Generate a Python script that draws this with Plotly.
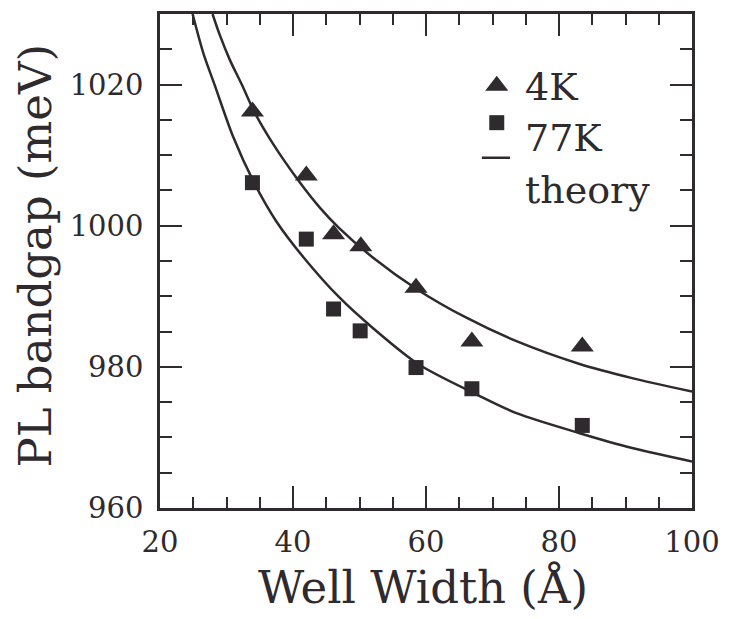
import plotly.graph_objects as go

width_4k = [33.9, 42.0, 46.1, 50.2, 58.5, 66.9, 83.5]
gap_4k = [1016.2, 1007.1, 998.8, 997.1, 991.2, 983.6, 982.9]

width_77k = [33.9, 42.0, 46.1, 50.1, 58.5, 66.9, 83.5]
gap_77k = [1006.1, 998.1, 988.2, 985.1, 979.9, 976.9, 971.7]

# Theory curves
theory_4k_w = [27.9, 29.0, 30.5, 32.3, 34.2, 37.0, 40.9, 44.0, 46.9, 52.0, 58.8, 66.0, 73.7, 83.1, 91.0, 100.0]
theory_4k_e = [1030.0, 1027.0, 1023.5, 1020.0, 1016.1, 1011.6, 1006.3, 1002.6, 999.7, 995.5, 990.9, 987.0, 983.6, 980.4, 978.4, 976.5]

theory_77k_w = [24.9, 26.5, 28.2, 31.0, 34.2, 37.5, 41.6, 46.9, 52.0, 58.8, 67.8, 73.7, 83.1, 91.0, 100.0]
theory_77k_e = [1030.0, 1024.5, 1020.0, 1012.6, 1006.0, 1000.6, 995.5, 989.9, 985.5, 980.4, 976.0, 973.4, 970.6, 968.5, 966.6]

legend_labels = ["4K", "77K", "theory"]

INK = "#2f2a2d"
FONT = "DejaVu Serif"

fig = go.Figure()

fig.add_trace(go.Scatter(x=theory_4k_w, y=theory_4k_e, mode="lines",
                         line=dict(color=INK, width=2.5, shape="spline", smoothing=0.8),
                         showlegend=False, hoverinfo="skip"))
fig.add_trace(go.Scatter(x=theory_77k_w, y=theory_77k_e, mode="lines",
                         line=dict(color=INK, width=2.5, shape="spline", smoothing=0.8),
                         showlegend=False, hoverinfo="skip"))
fig.add_trace(go.Scatter(x=width_4k, y=gap_4k, mode="markers",
                         marker=dict(symbol="triangle-up", size=20, color=INK, line=dict(width=0)),
                         showlegend=False, cliponaxis=False))
fig.add_trace(go.Scatter(x=width_77k, y=gap_77k, mode="markers",
                         marker=dict(symbol="square", size=15, color=INK, line=dict(width=0)),
                         showlegend=False, cliponaxis=False))

# Legend keys drawn on an invisible overlay axis (0..1 paper-like)
fig.add_trace(go.Scatter(x=[0.633], y=[0.855], xaxis="x2", yaxis="y2", mode="markers",
                         marker=dict(symbol="triangle-up", size=20, color=INK, line=dict(width=0)),
                         showlegend=False, hoverinfo="skip"))
fig.add_trace(go.Scatter(x=[0.633], y=[0.780], xaxis="x2", yaxis="y2", mode="markers",
                         marker=dict(symbol="square", size=15, color=INK, line=dict(width=0)),
                         showlegend=False, hoverinfo="skip"))
fig.add_trace(go.Scatter(x=[0.605, 0.658], y=[0.709, 0.709], xaxis="x2", yaxis="y2", mode="lines",
                         line=dict(color=INK, width=2.5),
                         showlegend=False, hoverinfo="skip"))

axis_common = dict(
    showline=True, linecolor=INK, linewidth=2.5, mirror="allticks",
    ticks="inside", ticklen=22, tickwidth=2, tickcolor=INK,
    showgrid=False, zeroline=False,
    tickfont=dict(family=FONT, size=29, color=INK),
)

fig.update_layout(
    width=731, height=619,
    margin=dict(l=160, r=34, t=11, b=111),
    paper_bgcolor="white", plot_bgcolor="white",
    xaxis=dict(range=[20, 100], tickvals=[20, 40, 60, 80, 100],
               minor=dict(ticks="inside", ticklen=11, tickwidth=2, tickcolor=INK, dtick=5, tick0=0),
               ticklabelstandoff=6, **axis_common),
    yaxis=dict(range=[960, 1030], tickvals=[960, 980, 1000, 1020],
               minor=dict(ticks="inside", ticklen=12, tickwidth=2, tickcolor=INK, dtick=5, tick0=0),
               ticklabelstandoff=8, **axis_common),
    xaxis2=dict(range=[0, 1], overlaying="x", visible=False, fixedrange=True),
    yaxis2=dict(range=[0, 1], overlaying="y", visible=False, fixedrange=True),
    showlegend=False,
)

fig.add_annotation(text="PL bandgap (meV)", xref="paper", yref="paper",
                   x=-0.233, y=0.511, xanchor="center", yanchor="middle", textangle=-90,
                   showarrow=False, font=dict(family=FONT, size=45, color=INK))
fig.add_annotation(text="Well Width (Å)", xref="paper", yref="paper",
                   x=0.494, y=-0.161, xanchor="center", yanchor="middle",
                   showarrow=False, font=dict(family=FONT, size=45, color=INK))

legend_y = [0.853, 0.750, 0.644]
for lab, ly in zip(legend_labels, legend_y):
    fig.add_annotation(text=lab, xref="paper", yref="paper", x=0.683, y=ly,
                       xanchor="left", yanchor="middle", showarrow=False,
                       font=dict(family=FONT, size=38, color=INK))

fig.write_html("out.html")
